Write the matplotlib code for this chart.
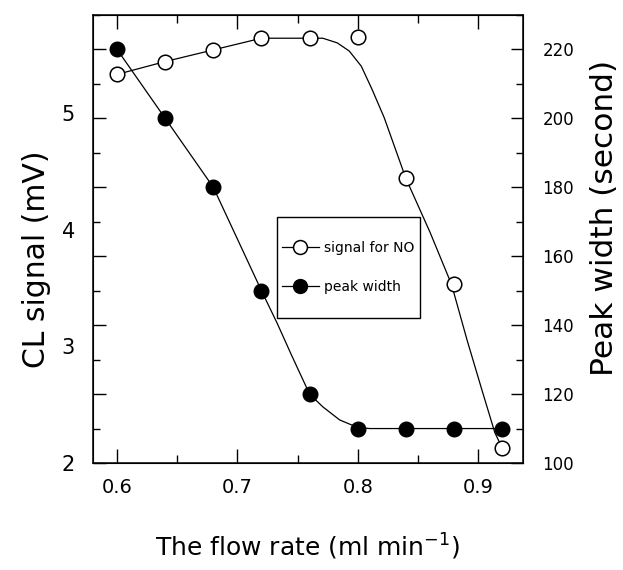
import matplotlib
matplotlib.use("Agg")
import matplotlib.pyplot as plt
from matplotlib.lines import Line2D
from matplotlib.patches import Rectangle
from matplotlib.ticker import MultipleLocator

# measured points
flow_rate = [0.60, 0.64, 0.68, 0.72, 0.76, 0.80, 0.84, 0.88, 0.92]
cl_signal = [5.33, 5.44, 5.54, 5.64, 5.64, 5.65, 4.44, 3.53, 2.13]
peak_width = [220, 200, 180, 150, 120, 110, 110, 110, 110]

# hand-drawn trend lines
no_fit_x = [0.600, 0.640, 0.680, 0.720, 0.758, 0.771, 0.783, 0.793, 0.803,
            0.812, 0.822, 0.831, 0.840, 0.860, 0.878, 0.891, 0.904, 0.914, 0.920]
no_fit_y = [5.33, 5.44, 5.54, 5.64, 5.64, 5.64, 5.60, 5.53, 5.40,
            5.20, 4.96, 4.70, 4.44, 3.98, 3.53, 3.05, 2.60, 2.26, 2.13]
pw_fit_x = [0.600, 0.640, 0.680, 0.700, 0.720, 0.733, 0.745, 0.760,
            0.771, 0.785, 0.800, 0.810, 0.920]
pw_fit_y = [220, 200, 180, 165, 150, 140.6, 131.3, 120,
            116.3, 112.5, 110.3, 110, 110]

fig = plt.figure(figsize=(6.23, 5.70), dpi=100)
ax = fig.add_axes([0.1493, 0.1877, 0.6902, 0.7860])
ax2 = ax.twinx()

ax.set_xlim(0.58, 0.9374)
ax.set_ylim(2, 5.839)
ax2.set_ylim(100, 230)

lw = 0.9
ax.plot(no_fit_x, no_fit_y, color="black", lw=lw, zorder=2)
ax.plot(flow_rate, cl_signal, "o", ms=10.5, mfc="white", mec="black",
        mew=1.1, zorder=3)
ax2.plot(pw_fit_x, pw_fit_y, color="black", lw=lw, zorder=2)
ax2.plot(flow_rate, peak_width, "o", ms=10.5, mfc="black", mec="black",
         zorder=3)

for spine in ax.spines.values():
    spine.set_linewidth(1.1)

# x axis: ticks inside, top and bottom
ax.xaxis.set_minor_locator(MultipleLocator(0.05))
ax.set_xticks([0.6, 0.7, 0.8, 0.9])
ax.set_xticklabels(["0.6", "0.7", "0.8", "0.9"])
ax.tick_params(axis="x", which="both", direction="in", top=True, bottom=True,
               width=1.0, labelsize=14, pad=11)
ax.tick_params(axis="x", which="major", length=10)
ax.tick_params(axis="x", which="minor", length=5.5)

# left labels only (marks come from the twin axis)
ax.set_yticks([2, 3, 4, 5])
ax.tick_params(axis="y", which="both", length=0, labelsize=15, pad=13)

# right axis ticks drawn on both spines
ax2.yaxis.set_major_locator(MultipleLocator(20))
ax2.yaxis.set_minor_locator(MultipleLocator(10))
ax2.tick_params(axis="y", which="both", direction="in", left=True, right=True,
                labelleft=False, width=1.0, pad=14, labelsize=12)
ax2.tick_params(axis="y", which="major", length=9)
ax2.tick_params(axis="y", which="minor", length=5)

ax.set_ylabel("CL signal (mV)", fontsize=21.5)
ax.yaxis.set_label_coords(-0.097, 0.455)
ax2.set_ylabel("Peak width (second)", fontsize=22.5)
ax2.yaxis.set_label_coords(1.155, 0.547)
ax.set_xlabel("The flow rate (ml min$^{\\mathregular{-1}}$)", fontsize=18,
              labelpad=25)

handles = [
    Line2D([], [], color="black", lw=lw, marker="o", ms=10, mfc="white",
           mec="black", mew=1.1),
    Line2D([], [], color="black", lw=lw, marker="o", ms=10, mfc="black",
           mec="black"),
]
# legend box
box_x, box_y, box_w, box_h = 0.428, 0.3237, 0.332, 0.2254
ax2.add_patch(Rectangle((box_x, box_y), box_w, box_h, transform=ax2.transAxes,
                        fill=True, facecolor="white", edgecolor="black",
                        lw=1.0, zorder=4))
leg = ax2.legend(handles, ["signal for NO", "peak width"],
                 loc="center", bbox_to_anchor=(box_x + box_w / 2,
                                               box_y + box_h / 2),
                 frameon=False, borderpad=0, borderaxespad=0,
                 labelspacing=1.85, handlelength=2.6, handletextpad=0.4,
                 fontsize=10)
leg.set_zorder(5)

fig.savefig("out.png", dpi=100)
